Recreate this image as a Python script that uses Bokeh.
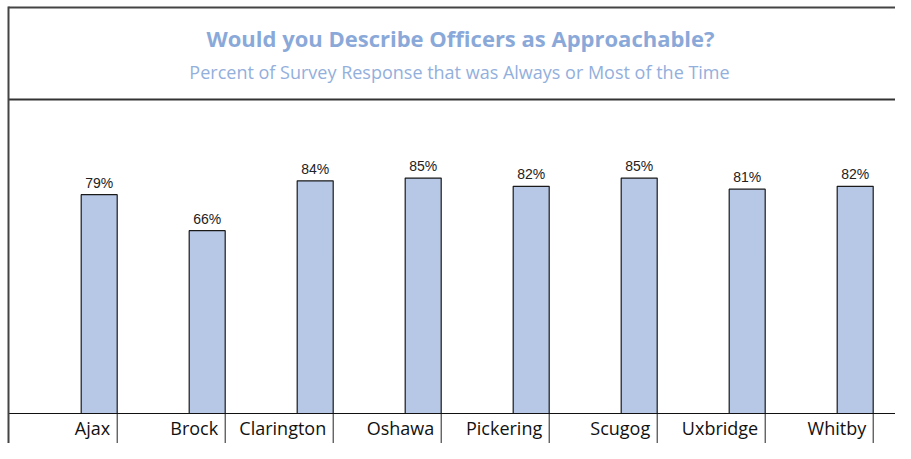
from bokeh.plotting import figure
from bokeh.models import Range1d, Label
from bokeh.core.properties import value
from bokeh.embed import file_html
from bokeh.resources import INLINE

# ---- data ----
categories = ["Ajax", "Brock", "Clarington", "Oshawa", "Pickering", "Scugog", "Uxbridge", "Whitby"]
percent = [79, 66, 84, 85, 82, 85, 81, 82]
pct_labels = [f"{v}%" for v in percent]
title_text = "Would you Describe Officers as Approachable?"
subtitle_text = "Percent of Survey Response that was Always or Most of the Time"

# ---- layout constants ----
W, H = 895, 443
SLOT = 108.0        # px per category slot
X0 = 8.7            # left edge of first slot, px
YPX = 2.77          # px per percent
BASE = 413          # baseline, px from top of figure

def ydat(py):
    return (BASE - py) / YPX

def xdat(px):
    return (px - X0) / SLOT

p = figure(width=W, height=H, output_backend="svg", toolbar_location=None,
           x_range=Range1d(xdat(0), xdat(W)), y_range=Range1d(ydat(H), ydat(0)),
           x_axis_location=None, y_axis_location=None, min_border=0,
           outline_line_color=None, background_fill_color="white")
p.xgrid.visible = False
p.ygrid.visible = False

idx = list(range(len(categories)))
bar_x = [i + 5 / 6 for i in idx]

p.vbar(x=bar_x, top=percent, bottom=0, width=1 / 3,
       fill_color="#b7c8e7", line_color="#1a1a1a", line_width=1.2)

p.text(x=bar_x, y=percent, text=pct_labels, text_align="center", text_baseline="bottom",
       y_offset=-4, text_font=value("Liberation Sans"), text_font_size="14px",
       text_color="#222222")

# dividers below the baseline
div_x = [i + 1 for i in idx]
p.segment(x0=div_x, y0=[0] * len(div_x), x1=div_x, y1=[ydat(H)] * len(div_x),
          line_color="#222222", line_width=1)

p.text(x=div_x, y=[0] * len(div_x), text=categories, text_align="right",
       text_baseline="middle", x_offset=-7, y_offset=14,
       text_font=value("Open Sans"), text_font_size="18px", text_color="#111111")

# frame lines (start at the left border, like the reference)
xl, xr = xdat(8), xdat(W + 5)
p.segment(x0=[xl, xl, xl], x1=[xr, xr, xr],
          y0=[ydat(7), ydat(99), 0], y1=[ydat(7), ydat(99), 0],
          line_color=["#444444", "#333333", "#111111"], line_width=[2, 2, 1])
p.segment(x0=[xl], x1=[xl], y0=[ydat(6)], y1=[ydat(H + 5)],
          line_color="#444444", line_width=2)

# title / subtitle
p.add_layout(Label(x=460, y=H - 37, x_units="screen", y_units="screen", text=title_text,
                   text_align="center", text_baseline="middle",
                   text_font="Open Sans", text_font_style="bold", text_font_size="22px",
                   text_color="#8aa9d9"))
p.add_layout(Label(x=459, y=H - 71, x_units="screen", y_units="screen", text=subtitle_text,
                   text_align="center", text_baseline="middle",
                   text_font="Open Sans", text_font_size="18px", text_color="#93afdc"))

open("out.html", "w").write(file_html(p, INLINE))
